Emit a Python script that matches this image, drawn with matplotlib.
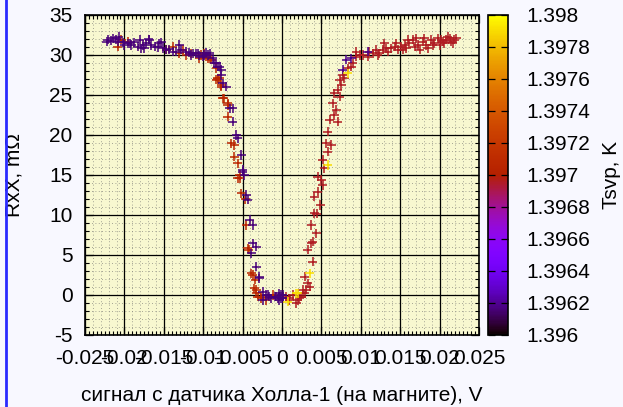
import numpy as np
import matplotlib
matplotlib.use("Agg")
import matplotlib.pyplot as plt
from matplotlib.lines import Line2D
from matplotlib.ticker import FixedLocator, FixedFormatter, MultipleLocator

plt.rcParams['font.family'] = ['Liberation Sans', 'DejaVu Sans']
plt.rcParams['axes.unicode_minus'] = False

# ---------------- data (x in V, y in mOhm) ----------------
left_purple_x = [-0.02223, -0.02210, -0.02168, -0.02147, -0.02104, -0.02084, -0.02071, -0.02020,
                 -0.01999, -0.01957, -0.01935, -0.01914, -0.01872, -0.01830, -0.01808, -0.01787,
                 -0.01766, -0.01745, -0.01723, -0.01690, -0.01682, -0.01660, -0.01618, -0.01576,
                 -0.01555, -0.01533, -0.01513, -0.01470, -0.01428, -0.01386, -0.01343, -0.01301,
                 -0.01279, -0.01216, -0.01174, -0.01152, -0.01132, -0.01089, -0.01068, -0.01047,
                 -0.01005, -0.00984, -0.00962, -0.00942, -0.00920, -0.00878, -0.00857, -0.00835,
                 -0.00815, -0.00793, -0.00772, -0.00772, -0.00751, -0.00708, -0.00666, -0.00624,
                 -0.00624, -0.00581, -0.00561, -0.00518, -0.00497, -0.00497, -0.00476, -0.00454,
                 -0.00434, -0.00412, -0.00370, -0.00370, -0.00327, -0.00391, -0.00327, -0.00286,
                 -0.00286, -0.00244, -0.00200, -0.00180, -0.00159, -0.00137, -0.00095, -0.00074,
                 -0.00053, -0.00032, -0.00032, -0.00010, -0.00010, 0.00010, 0.00010, -0.00244]
left_purple_y = [31.67, 31.88, 31.79, 32.08, 31.96, 31.67, 32.29, 31.58,
                 31.25, 31.46, 31.46, 31.25, 31.58, 31.04, 31.88, 30.83,
                 31.25, 30.83, 31.46, 31.96, 31.88, 31.25, 31.04, 30.96,
                 31.46, 31.58, 30.83, 30.63, 30.71, 30.42, 30.42, 31.25,
                 30.63, 30.42, 30.29, 30.00, 30.13, 30.21, 30.21, 29.88,
                 29.79, 30.00, 30.29, 30.00, 30.21, 29.58, 28.96, 28.96,
                 28.54, 28.54, 28.13, 27.50, 26.46, 26.04, 23.33, 21.67,
                 23.33, 20.00, 19.58, 17.50, 15.63, 15.42, 15.00, 12.50,
                 11.88, 9.38, 8.75, 6.46, 6.04, 5.21, 3.54, 2.08,
                 2.29, 0.42, 0.00, 0.00, -0.21, -0.42, -0.21, -0.21,
                 -0.42, -0.63, 0.21, 0.00, -0.42, -0.42, 0.00, -0.63]

left_red_x = [-0.02084, -0.02041, -0.01957, -0.01386, -0.01301, -0.01259, -0.01216, -0.01152,
              -0.01047, -0.00984, -0.00920, -0.00835, -0.00815, -0.00772, -0.00742, -0.00687,
              -0.00687, -0.00645, -0.00603, -0.00561, -0.00539, -0.00518, -0.00962, -0.00899,
              -0.00815, -0.00772, -0.00751, -0.00687, -0.00603, -0.00539, -0.00561, -0.00467,
              -0.00454, -0.00425, -0.00391, -0.00340, -0.00349, -0.00307, -0.00434, -0.00327,
              -0.00264, -0.00200, -0.00117, -0.00370, -0.00327, -0.00264, -0.01470, -0.01026,
              -0.00942, -0.00835, -0.00793]
left_red_y = [31.04, 31.88, 31.67, 31.04, 30.21, 30.63, 30.00, 30.21,
              29.58, 30.21, 29.58, 28.33, 26.96, 26.04, 24.58, 23.96,
              22.29, 18.96, 17.29, 16.46, 14.58, 12.71, 29.79, 29.38,
              27.08, 26.25, 24.58, 23.75, 18.75, 15.00, 14.58, 11.96,
              8.75, 5.63, 2.71, 1.88, 0.83, -0.21, 5.83, 0.63,
              -0.21, -0.63, 0.00, 2.50, 0.21, -0.42, 30.63, 30.00,
              29.58, 26.88, 27.08]

right_red_x = [0.00053, 0.00095, 0.00095, 0.00137, 0.00180, 0.00200, 0.00222, 0.00244,
               0.00264, 0.00307, 0.00327, 0.00286, 0.00349, 0.00264, 0.00286,
               0.00327, 0.00370, 0.00391, 0.00391, 0.00434, 0.00370, 0.00412, 0.00442,
               0.00485, 0.00412, 0.00454, 0.00518, 0.00497, 0.00454, 0.00539, 0.00518,
               0.00581, 0.00561, 0.00624, 0.00581, 0.00603, 0.00708, 0.00666, 0.00688,
               0.00645, 0.00730, 0.00666, 0.00708, 0.00751, 0.00730, 0.00793, 0.00772,
               0.00835, 0.00878, 0.00899, 0.00942, 0.00984, 0.00942,
               0.01026, 0.01089, 0.01110, 0.01152, 0.01195, 0.01216, 0.01237, 0.01279,
               0.01300, 0.01322, 0.01343, 0.01386, 0.01428, 0.01449, 0.01470, 0.01513,
               0.01533, 0.01555, 0.01576, 0.01597, 0.01618, 0.01660, 0.01682, 0.01703,
               0.01724, 0.01745, 0.01787, 0.01808, 0.01830, 0.01850, 0.01893, 0.01914,
               0.01935, 0.01977, 0.01999, 0.02020, 0.02041, 0.02062, 0.02084, 0.02104,
               0.02126, 0.02147, 0.02168, 0.02189, 0.02210]
right_red_y = [-0.21, -0.63, -0.42, 0.00, -1.04, -0.63, -0.42, -0.21,
               0.21, 0.63, 1.46, 2.29, 1.04, 0.63, 0.21,
               5.63, 6.46, 6.67, 4.17, 7.71, 8.75, 10.21, 10.13,
               11.25, 12.29, 12.92, 13.75, 14.38, 14.79, 15.83, 16.88,
               17.92, 18.96, 18.75, 20.42, 21.88, 21.67, 22.50, 23.13,
               23.96, 24.79, 25.21, 25.63, 26.25, 26.88, 27.08, 27.50,
               28.33, 28.54, 28.96, 29.79, 30.00, 30.42,
               30.00, 29.79, 30.42, 30.21, 30.63, 30.00, 30.21, 30.63,
               31.46, 30.83, 30.42, 30.83, 31.04, 31.46, 30.63, 31.04,
               30.63, 31.25, 30.83, 31.88, 31.46, 31.88, 31.04, 32.08,
               31.25, 30.63, 31.67, 32.08, 31.25, 30.83, 31.88, 31.25,
               31.46, 32.08, 31.25, 31.88, 31.67, 31.46, 31.88, 32.29,
               32.08, 31.67, 31.46, 31.88, 32.08]

right_purple_x = [0.00815, 0.00878, 0.00772, 0.01089]
right_purple_y = [29.38, 29.58, 28.13, 30.42]

yellow_x = [0.00581, 0.00349, 0.00180, 0.00074, 0.00200, 0.00835]
yellow_y = [16.25, 2.71, 0.21, -0.83, 0.21, 27.71]

# temperatures (Tsvp, K) of each group
t_left_purple = 1.39616
t_left_red = 1.39706
t_right_red = 1.39696
t_right_purple = 1.39618
t_yellow = 1.39790

x_ticks = [-0.025, -0.02, -0.015, -0.01, -0.005, 0, 0.005, 0.01, 0.015, 0.02, 0.025]
x_tick_labels = ["-0.025", "-0.02", "-0.015", "-0.01", "-0.005", "0",
                 "0.005", "0.01", "0.015", "0.02", "0.025"]
y_ticks = [-5, 0, 5, 10, 15, 20, 25, 30, 35]
cb_ticks = [1.396, 1.3962, 1.3964, 1.3966, 1.3968, 1.397, 1.3972, 1.3974, 1.3976, 1.3978, 1.398]
cb_tick_labels = ["1.396", "1.3962", "1.3964", "1.3966", "1.3968", "1.397",
                  "1.3972", "1.3974", "1.3976", "1.3978", "1.398"]
t_min, t_max = 1.396, 1.398

# ---------------- figure ----------------
W, H = 623, 407
FS = 15
fig = plt.figure(figsize=(W / 100, H / 100), dpi=100, facecolor='#f8f8ff')
ax = fig.add_axes([85 / W, 1 - 335 / H, (479 - 85) / W, 320 / H])
ax.set_facecolor('#f8f8d0')
ax.set_xlim(-0.025, 0.025)
ax.set_ylim(-5, 35)

# minor dotted grid
for xv in np.arange(-0.025, 0.0251, 0.001):
    ax.axvline(xv, color='#8a8a80', lw=0.6, ls=(0, (1, 3)), zorder=0.5)
for yv in np.arange(-5, 35.1, 1):
    ax.axhline(yv, color='#8a8a80', lw=0.6, ls=(0, (1, 3)), zorder=0.5)
# major grid
for xv in x_ticks:
    ax.axvline(xv, color='black', lw=0.9, zorder=0.6)
for yv in y_ticks:
    ax.axhline(yv, color='black', lw=0.9, zorder=0.6)

cmap = plt.get_cmap('gnuplot')
groups = [
    (left_red_x, left_red_y, t_left_red),
    (right_red_x, right_red_y, t_right_red),
    (left_purple_x, left_purple_y, t_left_purple),
    (right_purple_x, right_purple_y, t_right_purple),
    (yellow_x, yellow_y, t_yellow),
]
sc = None
for gx, gy, gt in groups:
    sc = ax.scatter(gx, gy, c=[gt] * len(gx), cmap=cmap, vmin=t_min, vmax=t_max,
                    marker='+', s=42, linewidths=1.1, zorder=3)

ax.xaxis.set_major_locator(FixedLocator(x_ticks))
ax.xaxis.set_major_formatter(FixedFormatter(x_tick_labels))
ax.xaxis.set_minor_locator(MultipleLocator(0.0005))
ax.yaxis.set_major_locator(FixedLocator(y_ticks))
ax.yaxis.set_minor_locator(MultipleLocator(1))
ax.tick_params(which='both', direction='in', top=True, right=True, labelsize=FS, colors='black')
ax.tick_params(which='major', length=6, width=0.9)
ax.tick_params(which='minor', length=3, width=0.8)
ax.tick_params(axis='x', pad=10)
ax.tick_params(axis='y', pad=9)
for s in ax.spines.values():
    s.set_linewidth(1.2)
    s.set_color('black')

ax.set_xlabel('сигнал с датчика Холла-1 (на магните), V', fontsize=FS, labelpad=13)
ax.set_ylabel('RxX, mΩ', fontsize=FS)
ax.yaxis.set_label_coords(-0.155, 0.5)

# colorbar
cax = fig.add_axes([488 / W, 1 - 335 / H, 20 / W, 320 / H])
cb = fig.colorbar(sc, cax=cax)
cb.set_ticks(cb_ticks)
cb.set_ticklabels(cb_tick_labels)
cb.outline.set_linewidth(1.2)
cax.tick_params(direction='in', length=5, width=0.9, left=True, right=True,
                labelsize=FS, pad=13)
cb.set_label('Tsvp, K', fontsize=FS, labelpad=9)

# blue frame line at left
fig.add_artist(Line2D([5.5 / W, 5.5 / W], [0, 1], color='#2a2aff', lw=2,
                      transform=fig.transFigure))

fig.savefig('out.png', dpi=100, facecolor=fig.get_facecolor())
